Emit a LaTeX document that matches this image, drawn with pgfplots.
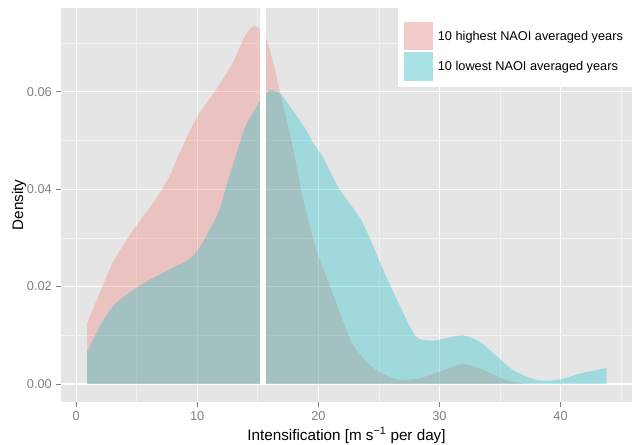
\documentclass[border=0pt]{standalone}
\usepackage{fontspec}
\setmainfont{Liberation Sans}
\usepackage{pgfplots}
\pgfplotsset{compat=1.18}
\definecolor{bggrey}{HTML}{E5E5E5}
\definecolor{gridminor}{HTML}{F2F2F2}
\definecolor{tickgrey}{HTML}{7F7F7F}
\definecolor{pinkc}{HTML}{F8766D}
\definecolor{cyanc}{HTML}{00BFC4}
\begin{document}
\begin{tikzpicture}
\useasboundingbox (-61bp,-43bp) rectangle (571bp,402bp);
\begin{axis}[
  at={(0,0)}, anchor=south west,
  width=571bp, height=394bp, scale only axis,
  xmin=-1.25, xmax=45.9, ymin=-0.0037, ymax=0.0772,
  axis background/.style={fill=bggrey},
  axis line style={draw=none},
  xtick={0,10,20,30,40}, xticklabels={0,10,20,30,40},
  ytick={0,0.02,0.04,0.06}, yticklabels={0.00,0.02,0.04,0.06},
  minor xtick={5,15,25,35,45}, minor ytick={0.01,0.03,0.05,0.07},
  grid=both,
  major grid style={draw=white, line width=1.1bp},
  minor grid style={draw=gridminor, line width=0.6bp},
  tick align=outside, tick pos=left,
  major tick length=5bp, minor tick length=0bp,
  tick style={draw=tickgrey, line width=0.8bp},
  ticklabel style={font=\fontsize{12.8}{15}\selectfont, text=tickgrey},
  xticklabel style={anchor=north, inner sep=0pt, yshift=-4.5bp},
  yticklabel style={anchor=east, inner sep=0pt, xshift=-4bp},
  xlabel={Intensification [m s\textsuperscript{−1} per day]},
  ylabel={Density},
  label style={font=\fontsize{15.3}{18}\selectfont, inner sep=0pt},
  xlabel style={at={(axis description cs:0.5,-0.0965)}, anchor=base},
  ylabel style={at={(axis description cs:-0.0665,0.5)}, anchor=base},
]
\addplot[draw=none, fill=pinkc, fill opacity=0.3, smooth, tension=0.45] coordinates {
(0.9,0.01245) (2.17,0.0200) (3.0,0.0248) (4.24,0.0299) (5.2,0.0333) (6.59,0.0380)
(7.69,0.0426) (8.5,0.0472) (10.0,0.0549) (11.55,0.0604) (12.92,0.0659) (14.02,0.0718)
(14.71,0.0735) (15.2,0.0728) (15.68,0.0710) (16.2,0.0668) (16.78,0.0605) (17.88,0.0487)
(18.7,0.0385) (19.81,0.0277) (21.19,0.0186) (22.7,0.0088) (24.0,0.0045) (25.0,0.0025)
(26.5,0.0009) (28.2,0.0011) (30.0,0.0025) (31.8,0.0041) (33.3,0.0032) (35.5,0.0008)
(36.9,0.0001) (37.5,0.0)
} \closedcycle;
\addplot[draw=none, fill=cyanc, fill opacity=0.3, smooth, tension=0.45] coordinates {
(0.9,0.00664) (2.17,0.0128) (3.28,0.0166) (4.93,0.0197) (6.31,0.0217) (7.96,0.0238)
(9.34,0.0256) (10.17,0.0279) (11.0,0.0316) (11.82,0.0357) (12.5,0.0415) (13.3,0.0478)
(14.0,0.0530) (14.85,0.0568) (15.4,0.0590) (16.09,0.0604) (16.9,0.0595) (17.6,0.0572)
(18.98,0.0522) (19.6,0.0494) (20.36,0.0467) (21.74,0.0400) (23.6,0.0334) (25.4,0.0232)
(26.7,0.0162) (28.07,0.0097) (29.45,0.0089) (30.55,0.0094) (31.93,0.0100) (33.3,0.0087)
(34.6,0.0060) (36.06,0.0029) (38.0,0.0008) (39.9,0.0009) (41.7,0.0022) (43.8,0.0033)
} \closedcycle;
\addplot[draw=white, line width=6bp] coordinates {(15.41,0) (15.41,0.08)};
\end{axis}
% legend
\fill[white] (337bp,315bp) rectangle (571bp,394bp);
\fill[gridminor] (342bp,351.3bp) rectangle (372bp,380.3bp);
\fill[pinkc, fill opacity=0.3] (342bp,351.3bp) rectangle (372bp,380.3bp);
\draw[white, line width=1bp] (342bp,351.3bp) rectangle (372bp,380.3bp);
\fill[gridminor] (342bp,320.3bp) rectangle (372bp,350.3bp);
\fill[cyanc, fill opacity=0.3] (342bp,320.3bp) rectangle (372bp,350.3bp);
\draw[white, line width=1bp] (342bp,320.3bp) rectangle (372bp,350.3bp);
\node[anchor=base west, inner sep=0pt, font=\fontsize{12.8}{15}\selectfont] at (376.7bp,361bp) {10 highest NAOI averaged years};
\node[anchor=base west, inner sep=0pt, font=\fontsize{12.8}{15}\selectfont] at (376.7bp,331bp) {10 lowest NAOI averaged years};
\end{tikzpicture}
\end{document}
